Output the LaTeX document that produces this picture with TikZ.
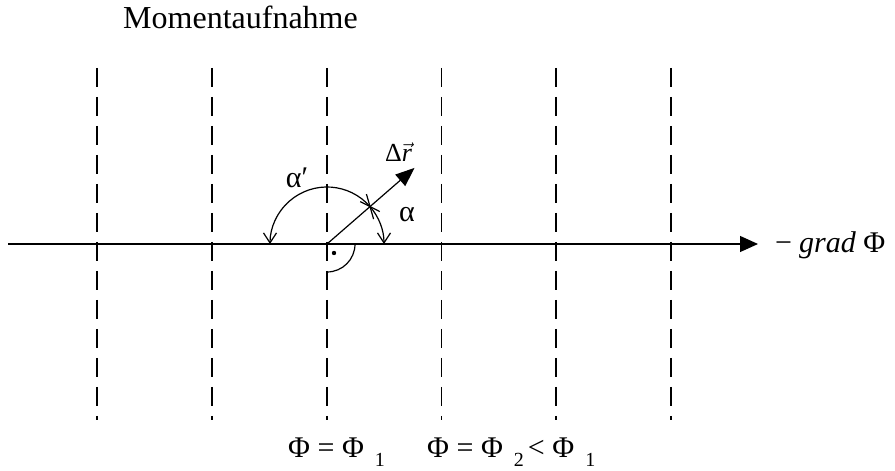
\documentclass[tikz,border=0pt]{standalone}
\usepackage{fontspec}
\setmainfont{Liberation Serif}
\usetikzlibrary{arrows.meta,calc}
\newcommand{\lowidx}[1]{\hspace{11pt}\raisebox{-9pt}{\fontsize{20}{20}\selectfont #1}}

\begin{document}
\begin{tikzpicture}[x=1pt,y=1pt]
    \tikzset{front/.style={dash pattern=on 19pt off 10pt,line width=1.8pt},
      ln/.style={line width=1.2pt},
      lbl/.style={inner sep=0pt,font=\fontsize{30}{34}\selectfont},
      barb/.style={ln,-{Straight Barb[length=10pt,width=13pt,line width=1.2pt]}}}
    \useasboundingbox (0,0) rectangle (895,471);
    % surfaces of equal phase
    \foreach \x in {97,211.8,326.6,441.4,556.2,671}
      \draw[front] (\x,403) -- (\x,51);
    \coordinate (O) at (327,227);
    \coordinate (west) at (8,227);
    \coordinate (east) at (758,227);
    \coordinate (tip) at ($(O)+(41:116)$);
    \draw[ln,-{Triangle[length=18pt,width=16pt]}] (west) -- (east);
    \draw[ln,-{Triangle[length=19pt,width=15pt]}] (O) -- (tip);
    % angles
    \draw[barb] ($(O)+(41:57)$) arc[start angle=41,end angle=0,radius=57];
    \draw[barb] ($(O)+(41:57)$) arc[start angle=41,end angle=180,radius=57];
    \coordinate (cross) at ($(O)+(41:57)$);
    \draw[ln] ($(cross)+(153:11)$) -- ($(cross)+(-27:11)$);
    \draw[ln] ($(cross)+(106:13)$) -- ($(cross)+(-74:13)$);
    \draw[ln] ($(O)+(28,0)$) arc[start angle=0,end angle=-90,radius=28];
    \fill (334,218) circle (2.2pt);
    % labels
    \node[lbl,font=\fontsize{32}{36}\selectfont,anchor=base west] (title) at (123,442) {Momentaufnahme};
    \node[lbl] (a2) at (297,293) {α′};
    \node[lbl] (a1) at (407,256) {α};
    \node[lbl,font=\fontsize{26}{30}\selectfont,anchor=base west] (dr) at (385,309) {Δ$\vec{\mbox{\itshape r}}$};
    \node[lbl,anchor=base west] (grad) at (775,218) {−\hspace{7pt}\textit{grad} Φ};
    \node[lbl,anchor=base west] (p1) at (288,13) {Φ = Φ\lowidx{1}};
    \node[lbl,anchor=base west] (p2) at (427,13) {Φ = Φ\lowidx{2}\hspace{4pt}< Φ\lowidx{1}};
  \end{tikzpicture}
\end{document}
